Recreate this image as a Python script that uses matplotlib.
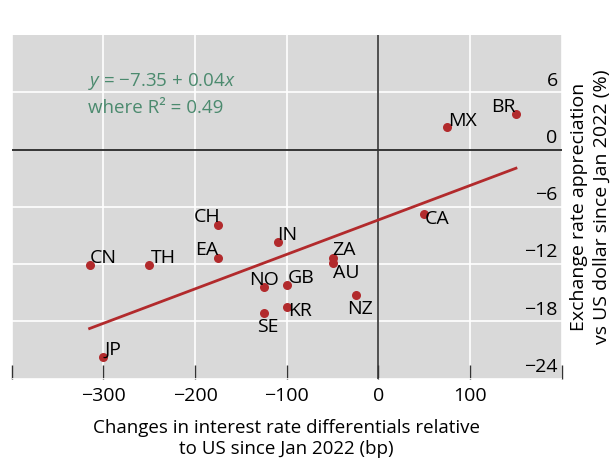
import matplotlib.pyplot as plt
from matplotlib.transforms import ScaledTranslation

plt.rcParams['font.family'] = ['Open Sans', 'DejaVu Sans']
plt.rcParams['mathtext.fontset'] = 'custom'
plt.rcParams['mathtext.it'] = 'Open Sans:italic'
plt.rcParams['mathtext.rm'] = 'Open Sans'

# country codes, rate differential change (bp), FX appreciation vs USD (%)
countries = ["CA", "CH", "IN", "EA", "CN", "TH", "ZA", "AU", "NO", "GB",
             "NZ", "KR", "SE", "JP", "MX", "BR"]
rate_diff = [50, -175, -110, -175, -315, -250, -50, -50, -125, -100,
             -25, -100, -125, -300, 75, 150]
fx_change = [-6.7, -7.9, -9.7, -11.4, -12.1, -12.1, -11.4, -11.9, -14.4, -14.2,
             -15.2, -16.5, -17.1, -21.7, 2.4, 3.7]

# label placement: (dx pts, dy pts, ha)
label_pos = {
    "CA": (0, -4, "left"), "CH": (2, 6, "right"), "IN": (0, 5, "left"),
    "EA": (0, 6, "right"), "CN": (0, 5, "left"), "TH": (1, 5, "left"),
    "ZA": (0, 6, "left"), "AU": (0, -7, "left"), "NO": (0, 5, "center"),
    "GB": (1, 5, "left"), "NZ": (3, -10, "center"), "KR": (1, -3, "left"),
    "SE": (3, -10, "center"), "JP": (1, 5, "left"), "MX": (1, 4, "left"),
    "BR": (0, 5, "right"),
}

# fitted line end points as drawn
fit_x = [-315, 150]
fit_y = [-18.75, -1.95]

xticks = [-400, -300, -200, -100, 0, 100, 200]
xtick_labels = ["", "−300", "−200", "−100", "0", "100", ""]
yticks = [-24, -18, -12, -6, 0, 6]
ytick_labels = ["−24", "−18", "−12", "−6", "0", "6"]

red = "#b22a2c"
green = "#4b8a6e"

fig = plt.figure(figsize=(6.14, 4.68), dpi=100)
ax = fig.add_axes([0.019, 0.191, 0.896, 0.734])
ax.set_facecolor("#d9d9d9")

ax.set_xlim(-400, 200)
ax.set_ylim(-24, 12)

ax.set_xticks(xticks)
ax.set_xticklabels(xtick_labels, fontsize=14)
ax.set_yticks(yticks)
ax.grid(True, color="white", linewidth=1.2)
ax.set_axisbelow(True)
ax.axhline(0, color="black", linewidth=1.1, zorder=1)
ax.axvline(0, color="#333333", linewidth=1.2, zorder=1)

for s in ax.spines.values():
    s.set_visible(False)

ax.tick_params(axis="x", direction="in", length=10, width=1, color="#333333",
               pad=6)
ax.yaxis.tick_right()
ax.tick_params(axis="y", length=0, pad=-3, labelsize=14)
ax.set_yticklabels(ytick_labels)
off = ScaledTranslation(0, 2 / 72, fig.dpi_scale_trans)
for lab in ax.get_yticklabels():
    lab.set_ha("right")
    lab.set_va("bottom")
    lab.set_transform(lab.get_transform() + off)

ax.plot(fit_x, fit_y, color=red, linewidth=2, zorder=2)
ax.scatter(rate_diff, fx_change, s=30, color=red, zorder=3)

for c, x, y in zip(countries, rate_diff, fx_change):
    dx, dy, ha = label_pos[c]
    ax.annotate(c, (x, y), xytext=(dx, dy), textcoords="offset points",
                ha=ha, va="center", fontsize=14, color="black", zorder=4)

ax.text(-317, 7.1, "$y$ = −7.35 + 0.04$x$", color=green, fontsize=13.5,
        va="center", ha="left")
ax.text(-317, 4.4, "where R² = 0.49", color=green, fontsize=13.5,
        va="center", ha="left")

ax.set_xlabel("Changes in interest rate differentials relative\nto US since Jan 2022 (bp)",
              fontsize=13.5, labelpad=10, linespacing=1.25)
ax.yaxis.set_label_position("right")
ax.set_ylabel("Exchange rate appreciation\nvs US dollar since Jan 2022 (%)",
              fontsize=14, labelpad=6, linespacing=1.3)

fig.savefig("out.png", dpi=100)
